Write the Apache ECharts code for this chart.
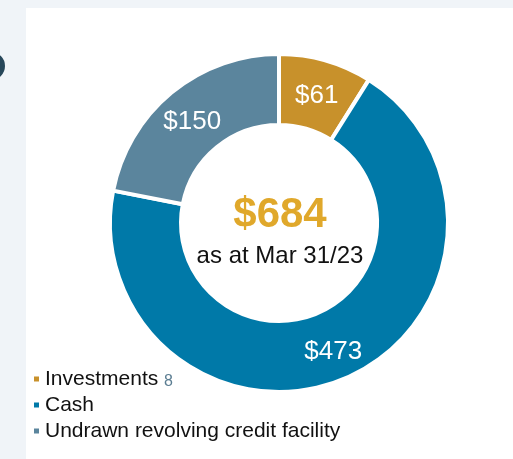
<!DOCTYPE html>
<html>
<head>
<meta charset="utf-8">
<script src="https://cdn.jsdelivr.net/npm/echarts@6/dist/echarts.min.js"></script>
<style>
html,body{margin:0;padding:0;background:#f0f4f8;}
#c{width:513px;height:459px;}
</style>
</head>
<body>
<div id="c"></div>
<script>
const categories = ['Investments', 'Cash', 'Undrawn revolving credit facility'];
const values = [61, 473, 150];
const colors = ['#C8912B', '#0079A8', '#5B859D'];
const totalLabel = '$684';
const dateLabel = 'as at Mar 31/23';
const footnote = '8';

const FONT = '"Liberation Sans", Arial, sans-serif';
const chart = echarts.init(document.getElementById('c'), null, {renderer: 'canvas'});

chart.setOption({
  backgroundColor: '#f0f4f8',
  animation: false,
  color: colors,
  graphic: [
    {type: 'rect', shape: {x: 26, y: 8, width: 487, height: 451}, style: {fill: '#ffffff'}, z: -10, silent: true},
    {type: 'circle', shape: {cx: -9, cy: 66, r: 11}, style: {fill: 'none', stroke: '#27475a', lineWidth: 6}, silent: true},
    {type: 'text', x: 280, y: 215, style: {text: totalLabel, fill: '#E0A82B', font: 'bold 42px ' + FONT, align: 'center', verticalAlign: 'middle'}, z: 10},
    {type: 'text', x: 280, y: 256, style: {text: dateLabel, fill: '#111111', font: '24px ' + FONT, align: 'center', verticalAlign: 'middle'}, z: 10}
  ],
  legend: {
    orient: 'vertical',
    left: 32,
    top: 368,
    padding: 0,
    itemGap: 4,
    itemWidth: 7,
    itemHeight: 7,
    icon: 'rect',
    data: categories,
    textStyle: {
      fontFamily: FONT, fontSize: 21, color: '#111111', lineHeight: 22,
      rich: {
        n: {fontFamily: FONT, fontSize: 21, color: '#111111', lineHeight: 22},
        s: {fontFamily: FONT, fontSize: 16, color: '#5B7D92', lineHeight: 22, padding: [6, 0, 0, 0]}
      }
    },
    formatter: function (name) {
      return name === categories[0] ? '{n|' + name + '} {s|' + footnote + '}' : '{n|' + name + '}';
    }
  },
  series: [{
    type: 'pie',
    center: [279, 223],
    radius: [98, 169],
    startAngle: 90,
    clockwise: true,
    avoidLabelOverlap: false,
    itemStyle: {borderColor: '#ffffff', borderWidth: 4},
    label: {
      show: true,
      position: 'inside',
      color: '#ffffff',
      fontFamily: FONT,
      fontSize: 26,
      offset: [0, 4],
      formatter: function (p) { return '$' + p.value; }
    },
    labelLine: {show: false},
    emphasis: {disabled: true},
    data: categories.map((c, i) => ({name: c, value: values[i]}))
  }]
});
</script>
</body>
</html>
